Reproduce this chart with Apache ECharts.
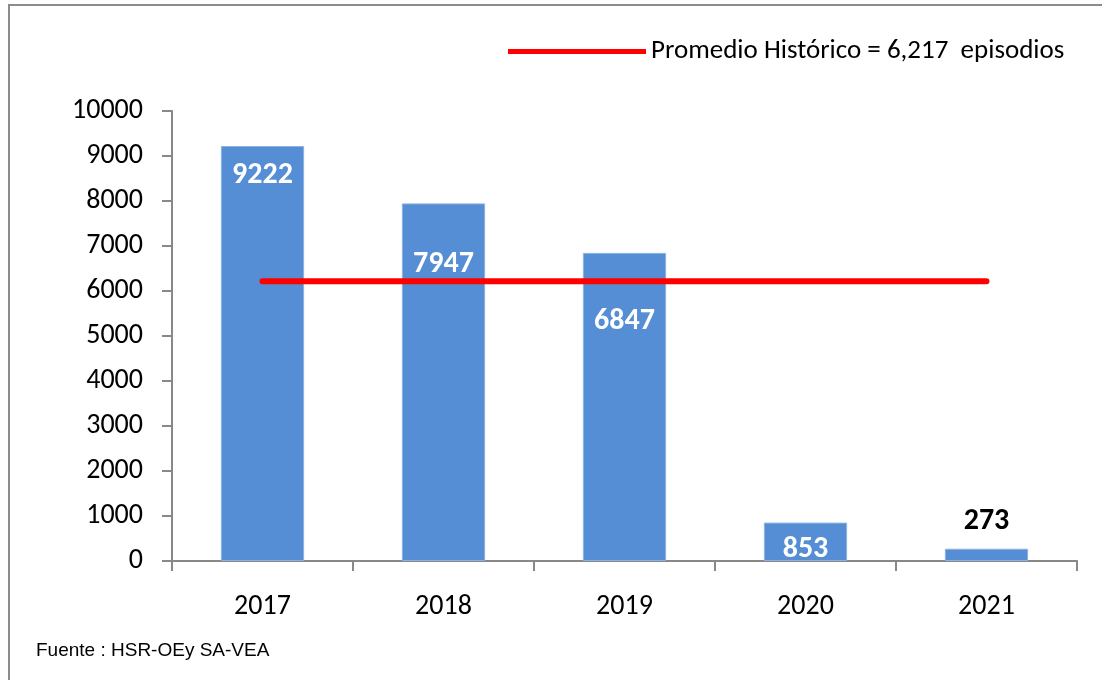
<!DOCTYPE html>
<html>
<head>
<meta charset="utf-8">
<script src="https://cdn.jsdelivr.net/npm/echarts@6/dist/echarts.min.js"></script>
<style>
html,body{margin:0;padding:0;background:#fff;}
#chart{width:1102px;height:680px;}
</style>
</head>
<body>
<div id="chart"></div>
<script>
var categories = ['2017', '2018', '2019', '2020', '2021'];
var episodios = [9222, 7947, 6847, 853, 273];
var promedioHistorico = 6217;
var promedioNombre = 'Promedio Histórico = 6,217  episodios';
var yTicks = [0, 1000, 2000, 3000, 4000, 5000, 6000, 7000, 8000, 9000, 10000];
var fuente = 'Fuente : HSR-OEy SA-VEA';

var FONT = 'Carlito, Lato, "Noto Sans", sans-serif';
var labelOffsets = [14, 46, 54, 12, null];

var barData = episodios.map(function (v, i) {
  var item = { value: v };
  if (labelOffsets[i] === null) {
    item.label = { position: 'top', distance: 12, color: '#000', offset: [0, 0] };
  } else {
    item.label = { position: 'insideTop', distance: 0, offset: [0, labelOffsets[i]] };
  }
  return item;
});

var chart = echarts.init(document.getElementById('chart'));
chart.setOption({
  backgroundColor: '#fff',
  animation: false,
  textStyle: { fontFamily: FONT },
  graphic: [
    { type: 'rect', shape: { x: 9, y: 5, width: 1100, height: 700 }, style: { fill: 'none', stroke: '#8c8c8c', lineWidth: 2 }, z: 100 },
    { type: 'text', left: 36, top: 641, style: { text: fuente, fontFamily: '"Liberation Sans", Arial, sans-serif', fontSize: 19, fill: '#000' } }
  ],
  legend: {
    data: [promedioNombre],
    left: 503,
    top: 33,
    icon: 'rect',
    itemWidth: 138,
    itemHeight: 5,
    textStyle: { fontFamily: FONT, fontSize: 27, color: '#000' }
  },
  grid: { left: 172, right: 25, top: 111, bottom: 119, containLabel: false },
  xAxis: {
    type: 'category',
    data: categories,
    axisLine: { lineStyle: { color: '#888', width: 2 } },
    axisTick: { show: true, length: 10, lineStyle: { color: '#888', width: 2 } },
    axisLabel: { fontSize: 28, color: '#000', margin: 32, fontFamily: FONT },
    splitLine: { show: false }
  },
  yAxis: {
    type: 'value',
    min: 0,
    max: 10000,
    interval: 1000,
    axisLine: { show: true, lineStyle: { color: '#888', width: 2 } },
    axisTick: { show: true, length: 10, lineStyle: { color: '#888', width: 2 } },
    axisLabel: { fontSize: 28, color: '#000', margin: 29, fontFamily: FONT,
      formatter: function (v) { return yTicks.indexOf(v) >= 0 ? String(v) : ''; } },
    splitLine: { show: false }
  },
  series: [
    {
      type: 'bar',
      name: 'Episodios',
      data: barData,
      barWidth: '46%',
      itemStyle: { color: '#558ED5', borderColor: '#8db3e2', borderWidth: 1 },
      label: { show: true, color: '#fff', fontWeight: 'bold', fontSize: 30, fontFamily: FONT },
      z: 2
    },
    {
      type: 'line',
      name: promedioNombre,
      data: categories.map(function () { return promedioHistorico; }),
      symbol: 'none',
      lineStyle: { color: '#ff0000', width: 6, cap: 'round' },
      itemStyle: { color: '#ff0000' },
      z: 3
    }
  ]
});
</script>
</body>
</html>
